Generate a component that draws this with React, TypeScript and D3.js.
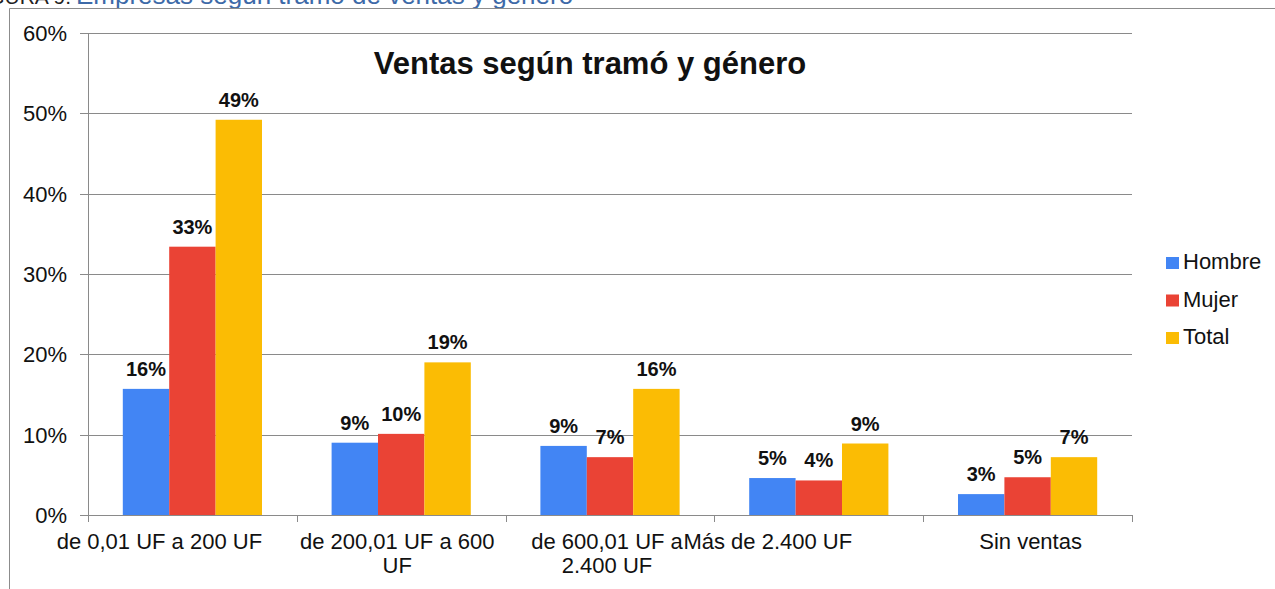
import React, { useEffect, useRef } from 'react';
import * as d3 from 'd3';

const WIDTH = 1275;
const HEIGHT = 589;

const categories = [
  'de 0,01 UF a 200 UF',
  'de 200,01 UF a 600 UF',
  'de 600,01 UF a 2.400 UF',
  'Más de 2.400 UF',
  'Sin ventas',
];
// how the axis labels wrap in the original
const categoryLines = [
  ['de 0,01 UF a 200 UF'],
  ['de 200,01 UF a 600', 'UF'],
  ['de 600,01 UF a', '2.400 UF'],
  ['Más de 2.400 UF'],
  ['Sin ventas'],
];
const seriesNames = ['Hombre', 'Mujer', 'Total'];
const hombre = [0.157, 0.090, 0.086, 0.046, 0.026];
const mujer = [0.334, 0.101, 0.072, 0.043, 0.047];
const total = [0.492, 0.190, 0.157, 0.089, 0.072];
const yTicks = [0, 0.1, 0.2, 0.3, 0.4, 0.5, 0.6];

const COLORS = ['#4285F4', '#EA4335', '#FBBC04'];
const FONT = 'Liberation Sans, Arial, sans-serif';
// label offsets seen in the source render (the labels are not centred)
const LABEL_NUDGE = [-33, -4, -3, -51, 3];

const App = () => {
  const svgRef = useRef<SVGSVGElement>(null);

  useEffect(() => {
    const svg = d3.select(svgRef.current);
    svg.selectAll('*').remove();

    const series = [hombre, mujer, total];
    const x = d3.scaleBand().domain(categories).range([88, 1132])
      .paddingInner(1 / 3).paddingOuter(1 / 6);
    const xs = d3.scaleBand().domain(seriesNames).range([0, x.bandwidth()]);
    const y = d3.scaleLinear().domain([0, 0.6]).range([515, 33]);
    const pct = d3.format('.0%');

    // caption above the chart, cut by the page top as in the source
    svg.append('text').attr('x', 71).attr('y', 4).attr('text-anchor', 'end')
      .attr('font-family', FONT).attr('font-size', 21).attr('fill', '#222')
      .text('FIGURA 9.');
    svg.append('text').attr('x', 76).attr('y', 4)
      .attr('font-family', FONT).attr('font-size', 26).attr('fill', '#3d6aa8')
      .text('Empresas según tramo de ventas y género');

    // frame
    svg.append('path').attr('d', 'M9.5,589V8.5H1275')
      .attr('fill', 'none').attr('stroke', '#8c8c8c');

    // grid + y labels
    const grid = svg.append('g');
    grid.selectAll('line').data(yTicks).join('line')
      .attr('x1', 80).attr('x2', 1132)
      .attr('y1', d => Math.round(y(d)) + 0.5).attr('y2', d => Math.round(y(d)) + 0.5)
      .attr('stroke', '#8a8a8a').attr('stroke-width', 1);
    grid.selectAll('text').data(yTicks).join('text')
      .attr('x', 67).attr('y', d => y(d) + 8)
      .attr('text-anchor', 'end').attr('font-family', FONT).attr('font-size', 22)
      .attr('fill', '#111').text(d => pct(d));

    // y axis line and category ticks
    svg.append('line').attr('x1', 88.5).attr('x2', 88.5).attr('y1', y(0.6)).attr('y2', 522)
      .attr('stroke', '#8a8a8a');
    const bounds = d3.range(categories.length + 1).map(i => 88 + i * x.step());
    svg.append('g').selectAll('line').data(bounds.slice(1)).join('line')
      .attr('x1', d => Math.round(d) + 0.5).attr('x2', d => Math.round(d) + 0.5)
      .attr('y1', 515).attr('y2', 522).attr('stroke', '#8a8a8a');

    // bars
    const groups = svg.append('g').selectAll('g').data(categories).join('g')
      .attr('transform', c => `translate(${x(c)},0)`);
    groups.selectAll('rect')
      .data((c, i) => seriesNames.map((s, k) => ({ s, k, v: series[k][i] })))
      .join('rect')
      .attr('x', d => xs(d.s)!).attr('width', xs.bandwidth())
      .attr('y', d => y(d.v)).attr('height', d => y(0) - y(d.v))
      .attr('fill', d => COLORS[d.k]);
    groups.selectAll('text')
      .data((c, i) => seriesNames.map((s, k) => ({ s, k, v: series[k][i] })))
      .join('text')
      .attr('x', d => xs(d.s)! + xs.bandwidth() / 2).attr('y', d => y(d.v) - 13)
      .attr('text-anchor', 'middle').attr('font-family', FONT).attr('font-size', 20)
      .attr('font-weight', 'bold').attr('fill', '#111').text(d => pct(d.v));

    // category labels
    const xl = svg.append('g').selectAll('text').data(categories).join('text')
      .attr('text-anchor', 'middle').attr('font-family', FONT).attr('font-size', 22)
      .attr('fill', '#111');
    xl.each(function (c, i) {
      const cx = x(c)! + x.bandwidth() / 2 + LABEL_NUDGE[i];
      d3.select(this).selectAll('tspan').data(categoryLines[i]).join('tspan')
        .attr('x', cx).attr('y', (d, j) => 549 + j * 24).text(d => d);
    });

    // title
    svg.append('text').attr('x', 590).attr('y', 74).attr('text-anchor', 'middle')
      .attr('font-family', FONT).attr('font-size', 31).attr('font-weight', 'bold')
      .attr('fill', '#111').text('Ventas según tramó y género');

    // legend
    const lg = svg.append('g').selectAll('g').data(seriesNames).join('g')
      .attr('transform', (d, i) => `translate(1166,${269 + i * 37.5})`);
    lg.append('rect').attr('x', 0).attr('y', -12).attr('width', 13).attr('height', 12)
      .attr('fill', (d, i) => COLORS[i]);
    lg.append('text').attr('x', 17).attr('y', 0).attr('font-family', FONT)
      .attr('font-size', 22).attr('fill', '#111').text(d => d);
  }, []);

  return (
    <svg
      ref={svgRef}
      width={WIDTH}
      height={HEIGHT}
      style={{ position: 'absolute', left: 0, top: 0, background: '#fff' }}
    />
  );
};

export default App;
